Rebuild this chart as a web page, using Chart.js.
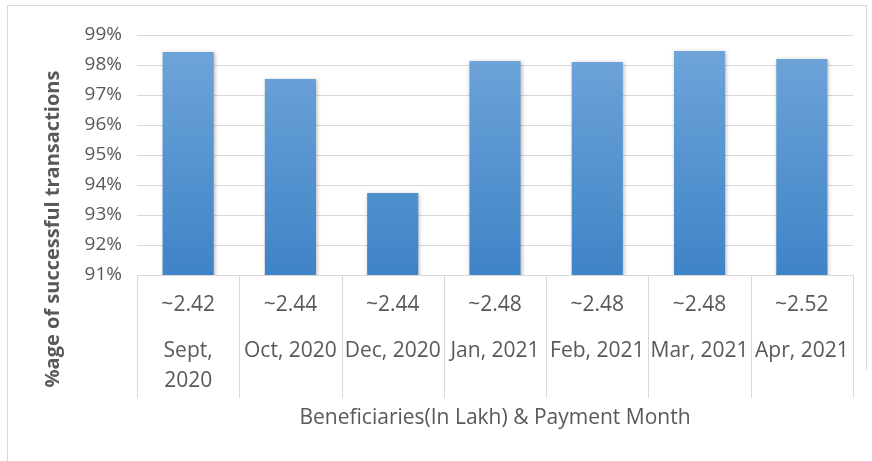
<!DOCTYPE html>
<html>
<head>
<meta charset="utf-8">
<script src="https://cdn.jsdelivr.net/npm/chart.js@4.4.1/dist/chart.umd.min.js"></script>
<style>
  html, body { margin: 0; padding: 0; background: #fff; }
  #wrap { width: 872px; height: 461px; }
</style>
</head>
<body>
<div id="wrap"><canvas id="chart" width="872" height="461"></canvas></div>
<script>
// --- Données ---
const beneficiaries = ['~2.42', '~2.44', '~2.44', '~2.48', '~2.48', '~2.48', '~2.52'];
const months = [['Sept,', '2020'], ['Oct, 2020'], ['Dec, 2020'], ['Jan, 2021'], ['Feb, 2021'], ['Mar, 2021'], ['Apr, 2021']];
const successRate = [98.43, 97.53, 93.73, 98.13, 98.10, 98.47, 98.20];
const yTicks = [91, 92, 93, 94, 95, 96, 97, 98, 99];
const xTitle = 'Beneficiaries(In Lakh) & Payment Month';
const yTitle = '%age of successful transactions';

const textColor = '#595959';
const gridColor = '#d9d9d9';
const fontFamily = '"Open Sans", sans-serif';

// dégradé vertical des barres
function barGradient(context) {
    const area = context.chart.chartArea;
    if (!area) return '#5b9bd5';
    const g = context.chart.ctx.createLinearGradient(0, area.top, 0, area.bottom);
    g.addColorStop(0, '#71a6da');
    g.addColorStop(1, '#3f84c7');
    return g;
}

// ombre légère sous les barres
const shadowPlugin = {
    id: 'barShadow',
    beforeDatasetsDraw(chart) {
        const ctx = chart.ctx;
        ctx.save();
        ctx.shadowColor = 'rgba(0,0,0,0.28)';
        ctx.shadowBlur = 4;
        ctx.shadowOffsetX = 1;
        ctx.shadowOffsetY = 1;
    },
    afterDatasetsDraw(chart) {
        chart.ctx.restore();
    }
};

// tableau des étiquettes sous l'axe x, titres et cadre
const tablePlugin = {
    id: 'labelTable',
    afterDraw(chart) {
        const ctx = chart.ctx;
        const xs = chart.scales.x;
        const area = chart.chartArea;
        const step = xs.width / beneficiaries.length;
        ctx.save();
        ctx.strokeStyle = gridColor;
        ctx.lineWidth = 1;
        for (let i = 0; i <= beneficiaries.length; i++) {
            const x = Math.round(xs.left + i * step) + 0.5;
            ctx.beginPath();
            ctx.moveTo(x, area.bottom);
            ctx.lineTo(x, 398);
            ctx.stroke();
        }
        // cadre (gauche, haut, droite)
        ctx.beginPath();
        ctx.moveTo(7.5, 461);
        ctx.lineTo(7.5, 5.5);
        ctx.lineTo(866.5, 5.5);
        ctx.lineTo(866.5, 370);
        ctx.stroke();

        ctx.fillStyle = textColor;
        ctx.font = '21px ' + fontFamily;
        ctx.textAlign = 'center';
        ctx.textBaseline = 'middle';
        beneficiaries.forEach((b, i) => {
            const x = xs.getPixelForValue(i);
            ctx.fillText(b, x, 305);
            months[i].forEach((line, j) => ctx.fillText(line, x, 351 + j * 30));
        });
        ctx.fillText(xTitle, (area.left + area.right) / 2, 418);

        ctx.font = 'bold 20px ' + fontFamily;
        ctx.translate(53, 229);
        ctx.rotate(-Math.PI / 2);
        ctx.fillText(yTitle, 0, 0);
        ctx.restore();
    }
};

new Chart(document.getElementById('chart'), {
    type: 'bar',
    data: {
        labels: months.map(m => m.join(' ')),
        datasets: [{
            data: successRate,
            backgroundColor: barGradient,
            borderWidth: 0,
            barPercentage: 0.5,
            categoryPercentage: 1
        }]
    },
    options: {
        responsive: false,
        animation: false,
        layout: { padding: { top: 35, right: 19, left: 0, bottom: 0 } },
        plugins: { legend: { display: false }, tooltip: { enabled: false } },
        scales: {
            x: {
                grid: { display: false },
                border: { display: false },
                ticks: { display: false },
                afterFit: s => { s.height = 186; }
            },
            y: {
                min: 91, max: 99,
                afterFit: s => { s.width = 137; },
                afterBuildTicks: s => { s.ticks = yTicks.map(v => ({ value: v })); },
                grid: { color: gridColor, drawTicks: false },
                border: { display: false },
                ticks: {
                    padding: 15,
                    color: textColor,
                    font: { family: fontFamily, size: 19 },
                    callback: v => v + '%'
                }
            }
        }
    },
    plugins: [shadowPlugin, tablePlugin]
});
</script>
</body>
</html>
